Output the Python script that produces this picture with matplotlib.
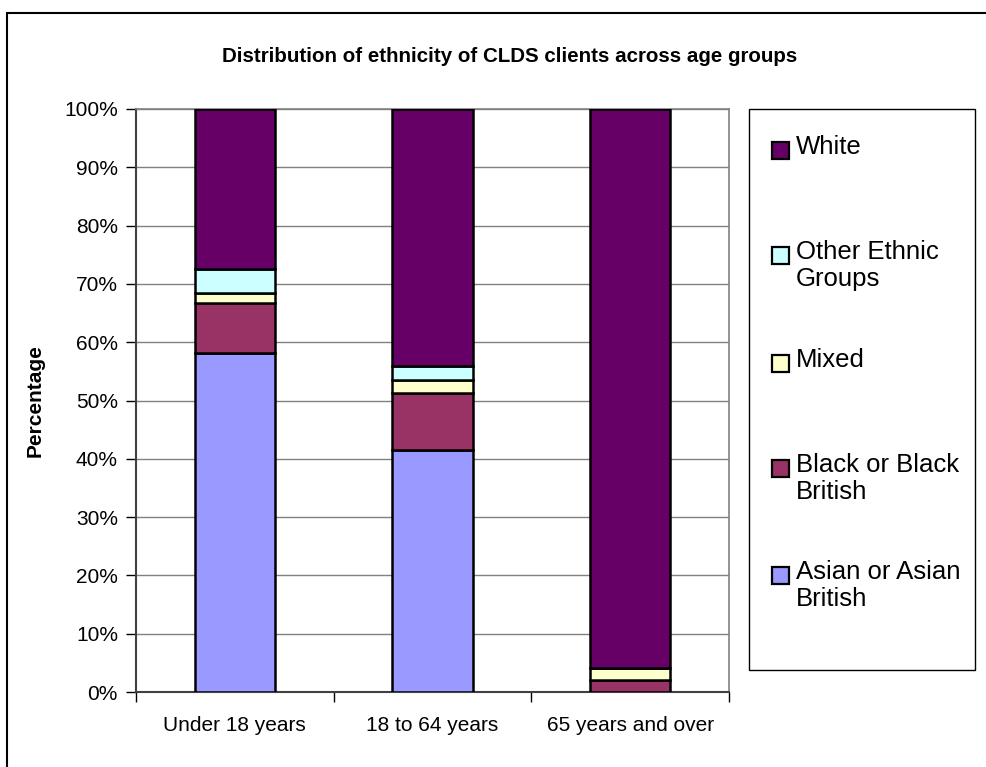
import matplotlib
matplotlib.use('Agg')
import matplotlib.pyplot as plt
from matplotlib.patches import Rectangle
from matplotlib.ticker import FixedLocator

plt.rcParams['font.family'] = ['Liberation Sans', 'DejaVu Sans']

# data (percent of clients in each age group)
age_groups = ['Under 18 years', '18 to 64 years', '65 years and over']
ethnic_groups = ['Asian or Asian\nBritish', 'Black or Black\nBritish', 'Mixed',
                 'Other Ethnic\nGroups', 'White']
asian = [58.2, 41.5, 0.0]
black = [8.6, 9.8, 2.0]
mixed = [1.7, 2.3, 2.1]
other = [4.1, 2.3, 0.0]
white = [27.4, 44.1, 95.9]
y_ticks = [0, 10, 20, 30, 40, 50, 60, 70, 80, 90, 100]

series = [asian, black, mixed, other, white]
colors = ['#9999FF', '#993366', '#FFFFCC', '#CCFFFF', '#660066']

W, H = 987, 767
fig = plt.figure(figsize=(W / 100, H / 100), dpi=100)


def fx(px):
    return px / W


def fy(py):
    return 1 - py / H


# outer chart frame
fig.add_artist(Rectangle((fx(7), fy(775)), fx(995) - fx(7), (775 - 13) / H,
                         transform=fig.transFigure, fill=False,
                         edgecolor='black', linewidth=1.5, clip_on=False))

ax = fig.add_axes([fx(136), fy(692), fx(729) - fx(136), (692 - 109) / H])

x = list(range(len(age_groups)))
bottom = [0.0] * len(age_groups)
for vals, col in zip(series, colors):
    ax.bar(x, vals, 0.405, bottom=bottom, color=col, edgecolor='black',
           linewidth=1.8, zorder=3)
    bottom = [b + v for b, v in zip(bottom, vals)]

ax.set_xlim(-0.5, len(age_groups) - 0.5)
ax.set_ylim(0, 100)
ax.set_yticks(y_ticks)
ax.set_yticklabels([f'{t}%' for t in y_ticks], fontsize=15)
ax.set_xticks(x)
ax.set_xticklabels(age_groups, fontsize=15)
ax.xaxis.set_minor_locator(FixedLocator([i - 0.5 for i in range(len(age_groups) + 1)]))
ax.tick_params(axis='x', which='major', length=0, pad=17)
ax.tick_params(axis='x', which='minor', length=7, width=1, direction='out')
ax.tick_params(axis='y', length=7, width=1, direction='out', pad=6)
ax.grid(axis='y', color='#808080', linewidth=1, zorder=0)

for s in ['top', 'right']:
    ax.spines[s].set_color('#808080')
    ax.spines[s].set_linewidth(1.2)
ax.spines['left'].set_color('#404040')
ax.spines['left'].set_linewidth(1.5)
ax.spines['bottom'].set_color('#404040')
ax.spines['bottom'].set_linewidth(1.5)

ax.set_ylabel('Percentage', fontsize=15, fontweight='bold', labelpad=14)

fig.text(fx(510), fy(57), 'Distribution of ethnicity of CLDS clients across age groups',
         ha='center', va='center', fontsize=14.8, fontweight='bold')

# legend box, entries listed top to bottom as in the stack
fig.add_artist(Rectangle((fx(749), fy(670)), fx(975) - fx(749), (670 - 109) / H,
                         transform=fig.transFigure, fill=False,
                         edgecolor='black', linewidth=1))
entry_y = [150, 255, 363, 468, 575]
for lab, col, yy in zip(ethnic_groups[::-1], colors[::-1], entry_y):
    fig.add_artist(Rectangle((fx(772), fy(yy + 9)), 17 / W, 17 / H,
                             transform=fig.transFigure, facecolor=col,
                             edgecolor='black', linewidth=1.6))
    fig.text(fx(796), fy(yy - 15), lab, ha='left', va='top', fontsize=18.5,
             linespacing=1.15)

fig.savefig('out.png', dpi=100)
